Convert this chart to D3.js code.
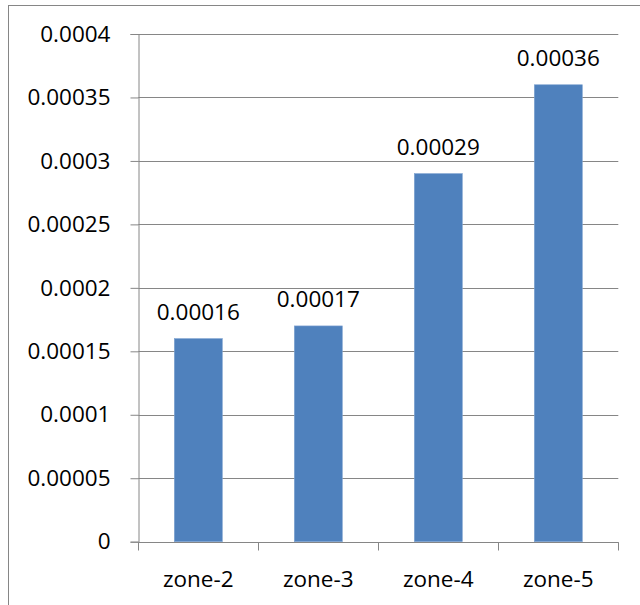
<!DOCTYPE html>
<html>
<head>
<meta charset="utf-8">
<script src="https://cdn.jsdelivr.net/npm/d3@7"></script>
<style>
  html, body { margin: 0; padding: 0; background: #fff; }
  svg { display: block; }
  text { font-family: "Open Sans", "Liberation Sans", Arial, sans-serif; fill: #000; }
</style>
</head>
<body>
<svg id="chart" width="640" height="605"></svg>
<script>
// Bar values per zone
const categories = ["zone-2", "zone-3", "zone-4", "zone-5"];
const values = [0.00016, 0.00017, 0.00029, 0.00036];
const valueLabels = ["0.00016", "0.00017", "0.00029", "0.00036"];
const yTicks = [0, 0.00005, 0.0001, 0.00015, 0.0002, 0.00025, 0.0003, 0.00035, 0.0004];
const yTickLabels = ["0", "0.00005", "0.0001", "0.00015", "0.0002", "0.00025", "0.0003", "0.00035", "0.0004"];

const svg = d3.select("#chart");
const plot = { left: 138.3, right: 618.3, top: 34, bottom: 541.7 };
const lineColor = "#868686";
const fontFamily = "'Open Sans', 'Liberation Sans', Arial, sans-serif";
const fontSize = 22.5;

// Chart frame
svg.append("rect")
  .attr("x", 8.5).attr("y", 5.5)
  .attr("width", 700).attr("height", 700)
  .attr("fill", "none").attr("stroke", lineColor).attr("stroke-width", 1);

const x = d3.scaleBand()
  .domain(categories)
  .range([plot.left, plot.right])
  .paddingInner(0.6)
  .paddingOuter(0.3);

const y = d3.scaleLinear()
  .domain([0, 0.0004])
  .range([plot.bottom, plot.top]);

// Horizontal gridlines
svg.append("g")
  .selectAll("line")
  .data(yTicks.filter(d => d > 0))
  .join("line")
  .attr("x1", plot.left).attr("x2", plot.right)
  .attr("y1", d => Math.round(y(d)) + 0.5).attr("y2", d => Math.round(y(d)) + 0.5)
  .attr("stroke", lineColor).attr("stroke-width", 1);

// Y axis
const yAxis = d3.axisLeft(y)
  .tickValues(yTicks)
  .tickFormat((d, i) => yTickLabels[i])
  .tickSize(8)
  .tickPadding(20);
const gy = svg.append("g")
  .attr("transform", `translate(${Math.round(plot.left) + 0.5},0)`)
  .call(yAxis);
gy.select(".domain").attr("stroke", lineColor);
gy.selectAll(".tick line").attr("stroke", lineColor);
gy.selectAll(".tick text")
  .attr("font-size", fontSize)
  .attr("font-family", fontFamily)
  .attr("fill", "#000");

// Bars
svg.append("g")
  .selectAll("rect")
  .data(values)
  .join("rect")
  .attr("x", (d, i) => x(categories[i]))
  .attr("y", d => y(d))
  .attr("width", x.bandwidth())
  .attr("height", d => y(0) - y(d))
  .attr("fill", "#4F81BD")
  .attr("stroke", "#7FA3D1")
  .attr("stroke-width", 0.6);

// Value labels above bars
svg.append("g")
  .selectAll("text")
  .data(values)
  .join("text")
  .attr("x", (d, i) => x(categories[i]) + x.bandwidth() / 2)
  .attr("y", d => y(d) - 19)
  .attr("text-anchor", "middle")
  .attr("font-size", fontSize)
  .text((d, i) => valueLabels[i]);

// X axis with ticks between categories
const xBoundaries = d3.range(categories.length + 1).map(i => plot.left + i * (plot.right - plot.left) / categories.length);
const gx = svg.append("g");
gx.append("line")
  .attr("x1", plot.left).attr("x2", plot.right + 0.5)
  .attr("y1", Math.round(plot.bottom) + 0.5).attr("y2", Math.round(plot.bottom) + 0.5)
  .attr("stroke", lineColor);
gx.selectAll("line.tk")
  .data(xBoundaries)
  .join("line")
  .attr("class", "tk")
  .attr("x1", d => Math.round(d) + 0.5).attr("x2", d => Math.round(d) + 0.5)
  .attr("y1", Math.round(plot.bottom) + 0.5).attr("y2", Math.round(plot.bottom) + 8.5)
  .attr("stroke", lineColor);
gx.selectAll("text")
  .data(categories)
  .join("text")
  .attr("x", d => x(d) + x.bandwidth() / 2)
  .attr("y", 586.5)
  .attr("text-anchor", "middle")
  .attr("font-size", fontSize)
  .text(d => d);
</script>
</body>
</html>
